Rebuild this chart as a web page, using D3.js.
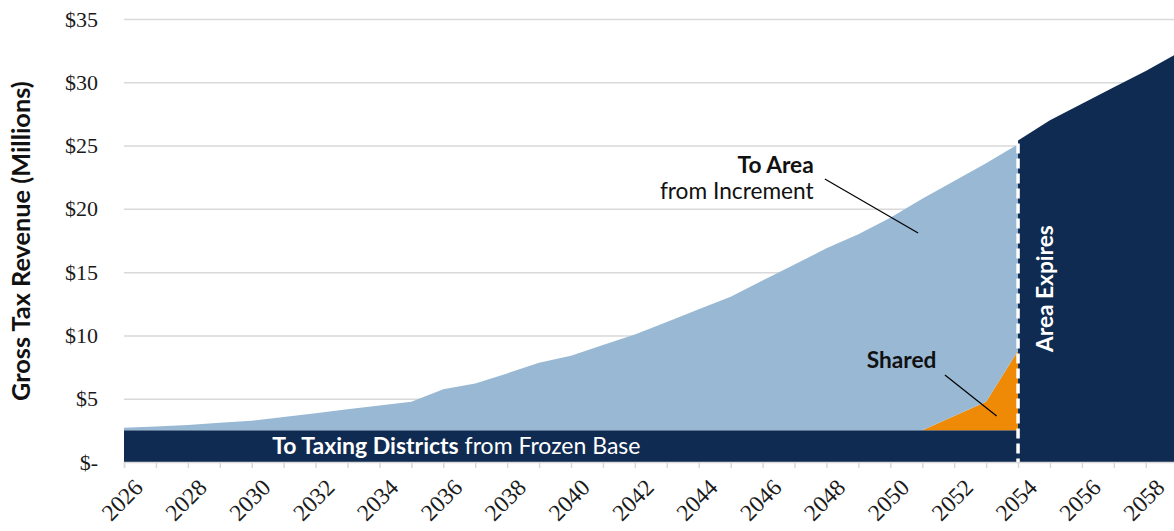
<!DOCTYPE html>
<meta charset="utf-8">
<script src="https://d3js.org/d3.v7.min.js"></script>
<style>
  body { margin: 0; background: #fff; }
  svg { display: block; }
</style>
<div id="chart"></div>
<script>

// years shown along the axis (data runs to 2059, cut at the right edge)
var years = [2026, 2027, 2028, 2029, 2030, 2031, 2032, 2033, 2034, 2035,
             2036, 2037, 2038, 2039, 2040, 2041, 2042, 2043, 2044, 2045,
             2046, 2047, 2048, 2049, 2050, 2051, 2052, 2053, 2054];

// $ millions, stacked bottom to top
var frozenBase = [2.5, 2.5, 2.5, 2.5, 2.5, 2.5, 2.5, 2.5, 2.5, 2.5,
                  2.5, 2.5, 2.5, 2.5, 2.5, 2.5, 2.5, 2.5, 2.5, 2.5,
                  2.5, 2.5, 2.5, 2.5, 2.5, 2.5, 2.5, 2.5, 2.5];
var shared = [0, 0, 0, 0, 0, 0, 0, 0, 0, 0,
              0, 0, 0, 0, 0, 0, 0, 0, 0, 0,
              0, 0, 0, 0, 0, 0, 1.13, 2.26, 6.3];
var toArea = [0.21, 0.31, 0.42, 0.6, 0.76, 1.06, 1.36, 1.66, 1.96, 2.26,
              3.24, 3.71, 4.5, 5.34, 5.9, 6.74, 7.58, 8.57, 9.56, 10.56,
              11.83, 13.1, 14.38, 15.5, 16.8, 18.3, 18.57, 18.84, 16.3];

// after the area expires all revenue goes to the taxing districts
var expiredYears = [2054, 2055, 2056, 2057, 2058, 2059];
var expiredTotal = [25.4, 27.0, 28.3, 29.6, 30.9, 32.3];

var yTicks = [0, 5, 10, 15, 20, 25, 30, 35];

var colors = {base: "#102b51", shared: "#ef8a06", toArea: "#98b8d4"};

var W = 1174, H = 531;
var margin = {top: 19, left: 124, bottom: 69};

var svg = d3.select("#chart").append("svg")
  .attr("width", W)
  .attr("height", H);

var x = d3.scaleLinear()
  .domain([2026, 2059])
  .range([margin.left, margin.left + 33 * 31.93]);

var y = d3.scaleLinear()
  .domain([0, 35])
  .range([H - margin.bottom, margin.top]);

var serif = "'Liberation Serif', 'DejaVu Serif', serif";
var sans = "Lato, 'Open Sans', sans-serif";

// gridlines + y labels
var yAxis = svg.append("g")
  .attr("transform", "translate(" + margin.left + ",0)")
  .call(d3.axisLeft(y)
    .tickValues(yTicks)
    .tickSize(-(W - margin.left))
    .tickPadding(26)
    .tickFormat(function(d) { return d === 0 ? "$-" : "$" + d; }));
yAxis.select(".domain").remove();
yAxis.selectAll(".tick line")
  .attr("stroke", "#d9d9d9")
  .attr("stroke-width", 1.5)
  .filter(function(d) { return d === 0; }).remove();
yAxis.selectAll(".tick text")
  .attr("font-family", serif)
  .attr("font-size", 22)
  .attr("fill", "#1a1a1a");

// stacked areas up to expiry
var rows = years.map(function(yr, i) {
  return {year: yr, base: frozenBase[i], shared: shared[i], toArea: toArea[i]};
});
var stack = d3.stack().keys(["base", "shared", "toArea"]);
var layers = stack(rows);

var area = d3.area()
  .x(function(d) { return x(d.data.year); })
  .y0(function(d) { return y(d[0]); })
  .y1(function(d) { return y(d[1]); });

svg.selectAll(".layer")
  .data(layers)
  .enter().append("path")
    .attr("class", "layer")
    .attr("d", area)
    .attr("fill", function(d) { return colors[d.key]; });

// expired area
var expArea = d3.area()
  .x(function(d, i) { return x(expiredYears[i]); })
  .y0(y(0))
  .y1(function(d) { return y(d); });

svg.append("path")
  .datum(expiredTotal)
  .attr("d", expArea)
  .attr("fill", colors.base);

// x axis
var xAxis = svg.append("g")
  .attr("transform", "translate(0," + y(0) + ")")
  .call(d3.axisBottom(x)
    .tickValues(d3.range(2026, 2060))
    .tickSize(6)
    .tickPadding(4)
    .tickFormat(function(d) { return d % 2 === 0 ? d : ""; }));
xAxis.select(".domain").attr("stroke", "#d9d9d9").attr("stroke-width", 1.5);
xAxis.selectAll(".tick line").attr("stroke", "#d9d9d9").attr("stroke-width", 1.5);
xAxis.selectAll(".tick text")
  .attr("font-family", serif)
  .attr("font-size", 23.5)
  .attr("fill", "#1a1a1a")
  .attr("text-anchor", "end")
  .attr("dy", "0.35em")
  .attr("transform", "translate(7,14) rotate(-45)");

// expiry marker
svg.append("line")
  .attr("x1", x(2054)).attr("x2", x(2054))
  .attr("y1", y(expiredTotal[0]) + 3).attr("y2", y(0))
  .attr("stroke", "#fff")
  .attr("stroke-width", 3.5)
  .attr("stroke-dasharray", "10,5");

// annotations
svg.append("text")
  .attr("x", x(2047.6)).attr("y", y(22.83))
  .attr("text-anchor", "end")
  .attr("font-family", sans).attr("font-weight", 700).attr("font-size", 22.7)
  .attr("fill", "#111")
  .text("To Area");
svg.append("text")
  .attr("x", x(2047.6)).attr("y", y(20.78))
  .attr("text-anchor", "end")
  .attr("font-family", sans).attr("font-size", 22.7)
  .attr("fill", "#111")
  .text("from Increment");
svg.append("line")
  .attr("x1", x(2047.95)).attr("y1", y(22.36))
  .attr("x2", x(2050.87)).attr("y2", y(18.09))
  .attr("stroke", "#000").attr("stroke-width", 1.2);

svg.append("text")
  .attr("x", x(2049.26)).attr("y", y(7.43))
  .attr("font-family", sans).attr("font-weight", 700).attr("font-size", 22.7)
  .attr("fill", "#111")
  .text("Shared");
svg.append("line")
  .attr("x1", x(2051.71)).attr("y1", y(6.87))
  .attr("x2", x(2053.33)).attr("y2", y(3.63))
  .attr("stroke", "#000").attr("stroke-width", 1.2);

svg.append("text")
  .attr("transform", "translate(" + (x(2054) + 35) + "," + y(13.7) + ") rotate(-90)")
  .attr("text-anchor", "middle")
  .attr("font-family", sans).attr("font-weight", 700).attr("font-size", 22.7)
  .attr("fill", "#fff")
  .text("Area Expires");

var base = svg.append("text")
  .attr("x", x(2030.64)).attr("y", y(0.63))
  .attr("font-family", sans).attr("font-size", 23)
  .attr("fill", "#fff");
base.append("tspan").attr("font-weight", 700).text("To Taxing Districts");
base.append("tspan").text(" from Frozen Base");

// y title
svg.append("text")
  .attr("transform", "translate(30," + y(17.45) + ") rotate(-90)")
  .attr("text-anchor", "middle")
  .attr("font-family", sans).attr("font-weight", 700).attr("font-size", 25.3)
  .attr("fill", "#111")
  .text("Gross Tax Revenue (Millions)");

</script>
